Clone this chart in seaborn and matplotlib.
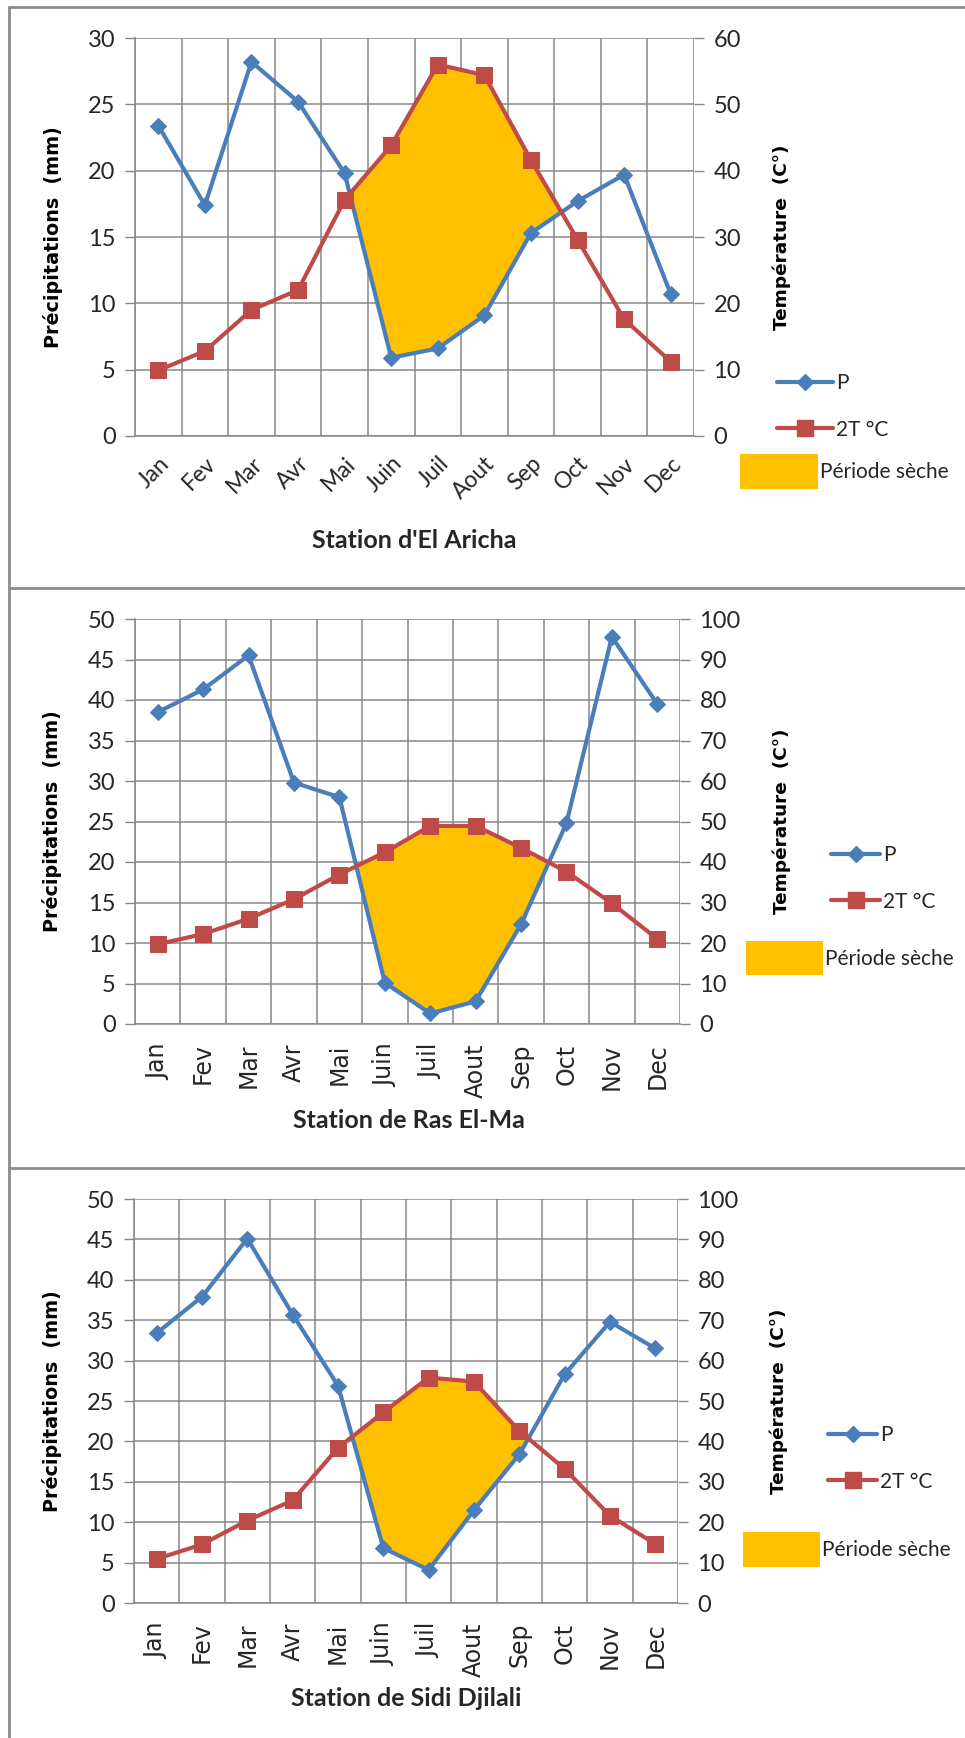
import numpy as np
import pandas as pd
import matplotlib
matplotlib.use("Agg")
import matplotlib.pyplot as plt
import seaborn as sns
from matplotlib.lines import Line2D
from matplotlib.patches import Patch

# ---------------- data ----------------
MONTHS = ["Jan", "Fev", "Mar", "Avr", "Mai", "Juin", "Juil", "Aout", "Sep", "Oct", "Nov", "Dec"]
STATIONS = ["Station d'El Aricha", "Station de Ras El-Ma", "Station de Sidi Djilali"]

P_ARICHA = [23.4, 17.4, 28.2, 25.2, 19.8, 5.9, 6.6, 9.1, 15.3, 17.7, 19.7, 10.7]
T2_ARICHA = [9.9, 12.8, 19.0, 22.0, 35.6, 43.8, 56.0, 54.4, 41.6, 29.6, 17.6, 11.2]

P_RASELMA = [38.5, 41.3, 45.5, 29.8, 28.0, 5.1, 1.3, 2.8, 12.3, 24.8, 47.8, 39.5]
T2_RASELMA = [19.7, 22.2, 26.0, 30.8, 36.9, 42.4, 48.9, 48.9, 43.5, 37.6, 29.8, 21.0]

P_SIDI = [33.4, 37.9, 45.1, 35.7, 26.9, 6.8, 4.1, 11.5, 18.4, 28.3, 34.8, 31.5]
T2_SIDI = [10.9, 14.5, 20.4, 25.4, 38.4, 47.2, 55.8, 54.8, 42.6, 33.2, 21.6, 14.6]

P_MAX = [30, 50, 50]
T_MAX = [60, 100, 100]
P_STEP = 5
T_STEP = 10

Y_LEFT_LABEL = "Précipitations  (mm)"
Y_RIGHT_LABEL = "Température  (C°)"
LEGEND_LABELS = ["P", "2T °C", "Période sèche"]

# ---------------- style ----------------
BLUE = "#4A7EBB"
RED = "#BE4B48"
YELLOW = "#FFC000"
GRID = "#878787"
FRAME = "#8C8C8C"
TEXT = "#262626"

W, H = 965, 1738
sns.set_style("white")
plt.rcParams["font.family"] = ["Lato", "DejaVu Sans"]

fig = plt.figure(figsize=(W / 100, H / 100), dpi=100)


def fx(px):
    return px / W


def fy(py):
    return 1 - py / H


# panel geometry (pixels): plot-area left, right, top, bottom
PANELS_PX = [(135, 694, 38, 436), (135, 680, 619, 1024), (134, 678, 1199, 1603)]
# legend geometry: line x0, line length, row1 y, row2 y, patch x0, y0, x1, y1
LEG_PX = [
    (777, 56, 382, 431, 740, 448, 818, 495),
    (831, 49, 854, 903, 746, 936, 823, 980),
    (828, 49, 1434, 1483, 743, 1527, 820, 1572),
]
XLABEL_PX = [(414, 540), (409, 1120), (406, 1699)]
YLABEL_X = [63, 62, 62]
Y2LABEL_X = [772, 772, 769]

data = [(P_ARICHA, T2_ARICHA), (P_RASELMA, T2_RASELMA), (P_SIDI, T2_SIDI)]

LEG_FS = 15
FS_PX = LEG_FS * 100 / 72
TICK_FS = 17

for i, ((P, T2), station) in enumerate(zip(data, STATIONS)):
    l, r, t, b = PANELS_PX[i]
    ax = fig.add_axes([fx(l), fy(b), fx(r - l), (b - t) / H])
    ax2 = ax.twinx()

    df = pd.DataFrame({"pos": np.arange(len(MONTHS)), "mois": MONTHS, "P": P, "T2": T2})
    x = df["pos"].to_numpy()
    p = df["P"].to_numpy()
    half_t = df["T2"].to_numpy() * P_MAX[i] / T_MAX[i]

    ax.fill_between(x, p, half_t, where=half_t > p, interpolate=True,
                    color=YELLOW, linewidth=0, zorder=1.5)
    sns.lineplot(data=df, x="pos", y="P", ax=ax, color=BLUE, linewidth=3.0,
                 marker="D", markersize=8, markeredgecolor=BLUE, zorder=3)
    sns.lineplot(data=df, x="pos", y="T2", ax=ax2, color=RED, linewidth=3.0,
                 marker="s", markersize=11, markeredgecolor=RED, zorder=3)

    ax.set_xlim(-0.5, len(MONTHS) - 0.5)
    ax.set_ylim(0, P_MAX[i])
    ax2.set_ylim(0, T_MAX[i])
    ax.set_yticks(np.arange(0, P_MAX[i] + 1, P_STEP))
    ax2.set_yticks(np.arange(0, T_MAX[i] + 1, T_STEP))

    ax.set_xticks(np.arange(-0.5, len(MONTHS), 1.0))
    ax.set_xticklabels([])
    ax.set_xticks(x, minor=True)
    if i == 0:
        ax.set_xticklabels(MONTHS, minor=True, rotation=45, ha="right",
                           rotation_mode="anchor", fontsize=16.5, color=TEXT)
        ax.tick_params(axis="x", which="minor", length=0, pad=12)
        ax.tick_params(axis="x", which="major", length=0)
    else:
        ax.set_xticklabels(MONTHS, minor=True, rotation=90, fontsize=17,
                           color=TEXT, family="DejaVu Sans")
        ax.tick_params(axis="x", which="minor", length=0, pad=14)
        ax.tick_params(axis="x", which="major", length=7, width=1, color=GRID,
                       direction="out")

    ax.set_axisbelow(True)
    ax.grid(True, which="major", color=GRID, linewidth=1.1)
    for s in ax.spines.values():
        s.set_visible(False)
    for s in ax2.spines.values():
        s.set_visible(False)
    ax.spines["left"].set_visible(True)
    ax.spines["left"].set_color(GRID)
    ax.spines["bottom"].set_visible(True)
    ax.spines["bottom"].set_color(GRID)
    ax.spines["left"].set_linewidth(1.1)
    ax.spines["bottom"].set_linewidth(1.1)

    ax.tick_params(axis="y", length=7, width=1, color=GRID, direction="out",
                   labelsize=TICK_FS, labelcolor=TEXT, pad=7)
    ax2.tick_params(axis="y", length=7, width=1, color=GRID, direction="out",
                    labelsize=TICK_FS, labelcolor=TEXT, pad=7)

    ax.set_ylabel(Y_LEFT_LABEL, fontsize=13.8, fontweight="bold",
                  family="DejaVu Sans", color="black")
    ax.yaxis.set_label_coords((YLABEL_X[i] - l) / (r - l), 0.5)
    ax2.set_ylabel(Y_RIGHT_LABEL, fontsize=13.3, fontweight="bold",
                   family="DejaVu Sans", color="black", rotation=90)
    ax2.yaxis.set_label_coords((Y2LABEL_X[i] - l) / (r - l), 0.5)

    ax.set_xlabel(station, fontsize=18, fontweight="bold", color=TEXT)
    xl, yl = XLABEL_PX[i]
    ax.xaxis.set_label_coords((xl - l) / (r - l), (b - yl) / (b - t))
    ax.xaxis.label.set_va("center")

    # legends
    lx0, llen, ly1, ly2, px0, py0, px1, py1 = LEG_PX[i]
    handles = [
        Line2D([], [], color=BLUE, lw=3.0, marker="D", markersize=8),
        Line2D([], [], color=RED, lw=3.0, marker="s", markersize=11),
    ]
    fig.legend(handles, LEGEND_LABELS[:2], loc="center left",
               bbox_to_anchor=(fx(lx0), fy((ly1 + ly2) / 2)),
               frameon=False, borderpad=0, borderaxespad=0,
               handlelength=llen / FS_PX, handletextpad=0.15,
               labelspacing=1.25, fontsize=LEG_FS, numpoints=1,
               labelcolor=TEXT)
    fig.legend([Patch(facecolor=YELLOW, edgecolor="none")], LEGEND_LABELS[2:],
               loc="center left", bbox_to_anchor=(fx(px0), fy((py0 + py1) / 2)),
               frameon=False, borderpad=0, borderaxespad=0,
               handlelength=(px1 - px0) / FS_PX, handleheight=(py1 - py0) / FS_PX,
               handletextpad=0.1, fontsize=LEG_FS, labelcolor=TEXT)

# panel frames
for y in (7, 588, 1168):
    fig.add_artist(Line2D([fx(9), 1.0], [fy(y), fy(y)], color=FRAME, lw=2.0))
fig.add_artist(Line2D([fx(9), fx(9)], [fy(7), 0.0], color=FRAME, lw=2.0))

fig.savefig("out.png", dpi=100)
